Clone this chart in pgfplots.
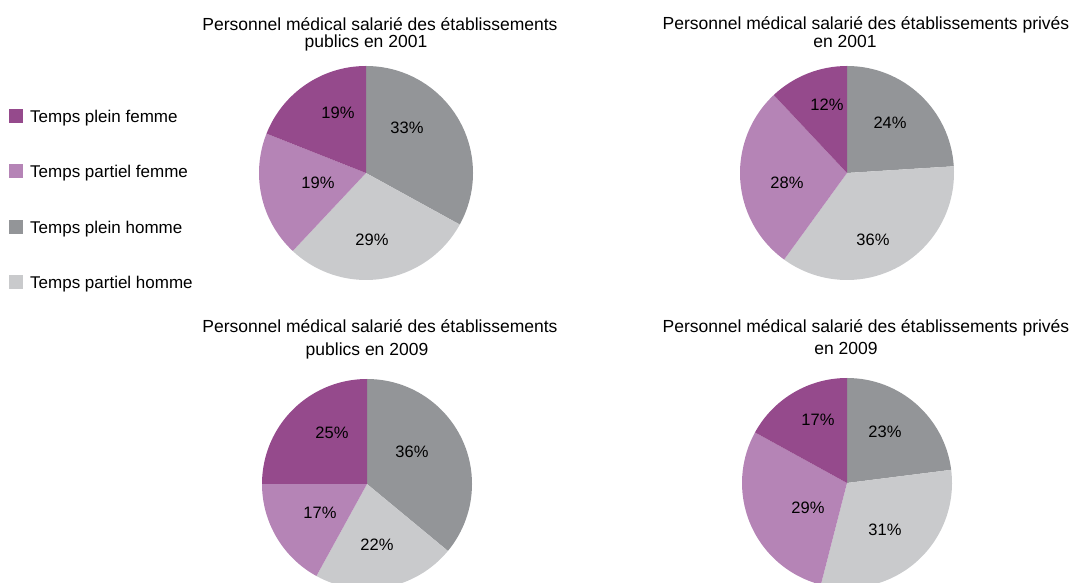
\documentclass[border=0pt]{standalone}
\usepackage{pgfplots}
\pgfplotsset{compat=1.18}
\usepackage{fontspec}
\setmainfont{Liberation Sans}
\definecolor{cTPF}{HTML}{954A8C}
\definecolor{cTPaF}{HTML}{B584B6}
\definecolor{cTPH}{HTML}{939598}
\definecolor{cTPaH}{HTML}{C9CACC}
\definecolor{txt}{HTML}{231F20}
% #1 cx, #2 cy, #3 r, #4 TPH, #5 TPaH, #6 TPaF, #7 TPF (percent)
\newcommand{\pie}[7]{%
  \pgfmathsetmacro\angA{90-3.6*#4}%
  \pgfmathsetmacro\angB{\angA-3.6*#5}%
  \pgfmathsetmacro\angC{\angB-3.6*#6}%
  \pgfmathsetmacro\angD{\angC-3.6*#7}%
  \edef\doit{%
    \noexpand\fill[cTPH] (axis cs:#1,#2) -- ++(90:#3pt) arc[start angle=90, end angle=\angA, radius=#3pt] -- cycle;
    \noexpand\fill[cTPaH] (axis cs:#1,#2) -- ++(\angA:#3pt) arc[start angle=\angA, end angle=\angB, radius=#3pt] -- cycle;
    \noexpand\fill[cTPaF] (axis cs:#1,#2) -- ++(\angB:#3pt) arc[start angle=\angB, end angle=\angC, radius=#3pt] -- cycle;
    \noexpand\fill[cTPF] (axis cs:#1,#2) -- ++(\angC:#3pt) arc[start angle=\angC, end angle=\angD, radius=#3pt] -- cycle;
  }\doit}
\begin{document}
\begin{tikzpicture}
\begin{axis}[width=1073pt,height=583pt,scale only axis,
  xmin=0,xmax=1073,ymin=0,ymax=583,hide axis,clip=true,
  every node/.style={text=txt}]
% pies
\pie{366}{410}{107}{33}{29}{19}{19}
\pie{847}{410}{107}{24}{36}{28}{12}
\pie{367}{99}{105}{36}{22}{17}{25}
\pie{847}{100}{105}{23}{31}{29}{17}
% slice labels
\begin{scope}[font=\fontsize{16.5}{19}\selectfont]
\node at (axis cs:338,470) {19\%};
\node at (axis cs:407,455) {33\%};
\node at (axis cs:318,400) {19\%};
\node at (axis cs:372,343) {29\%};
\node at (axis cs:827,478) {12\%};
\node at (axis cs:890,460) {24\%};
\node at (axis cs:787,400) {28\%};
\node at (axis cs:873,343) {36\%};
\node at (axis cs:332,150) {25\%};
\node at (axis cs:412,131) {36\%};
\node at (axis cs:320,70) {17\%};
\node at (axis cs:377,38) {22\%};
\node at (axis cs:818,163) {17\%};
\node at (axis cs:885,151) {23\%};
\node at (axis cs:808,75) {29\%};
\node at (axis cs:885,53) {31\%};
\end{scope}
% titles
\begin{scope}[font=\fontsize{17.5}{20}\selectfont, anchor=base, inner sep=0pt]
\node[anchor=base] at (axis cs:380,552) {Personnel médical salarié des établissements};
\node[anchor=base] at (axis cs:366,535) {publics en 2001};
\node[anchor=base] at (axis cs:866,553) {Personnel médical salarié des établissements privés};
\node[anchor=base] at (axis cs:845,535) {en 2001};
\node[anchor=base] at (axis cs:380,250) {Personnel médical salarié des établissements};
\node[anchor=base] at (axis cs:367,227) {publics en 2009};
\node[anchor=base] at (axis cs:866,250) {Personnel médical salarié des établissements privés};
\node[anchor=base] at (axis cs:846,228) {en 2009};
\end{scope}
% legend
\fill[cTPF] (axis cs:9,460) rectangle (axis cs:23,474);
\fill[cTPaF] (axis cs:9,405) rectangle (axis cs:23,419);
\fill[cTPH] (axis cs:9,349) rectangle (axis cs:23,363);
\fill[cTPaH] (axis cs:9,294) rectangle (axis cs:23,308);
\begin{scope}[font=\fontsize{17}{20}\selectfont, inner sep=0pt]
\node[anchor=base west] at (axis cs:30,460) {Temps plein femme};
\node[anchor=base west] at (axis cs:30,405) {Temps partiel femme};
\node[anchor=base west] at (axis cs:30,349) {Temps plein homme};
\node[anchor=base west] at (axis cs:30,294) {Temps partiel homme};
\end{scope}
\end{axis}
\pgfresetboundingbox
\path (0,0) rectangle (1073pt,583pt);
\end{tikzpicture}
\end{document}
